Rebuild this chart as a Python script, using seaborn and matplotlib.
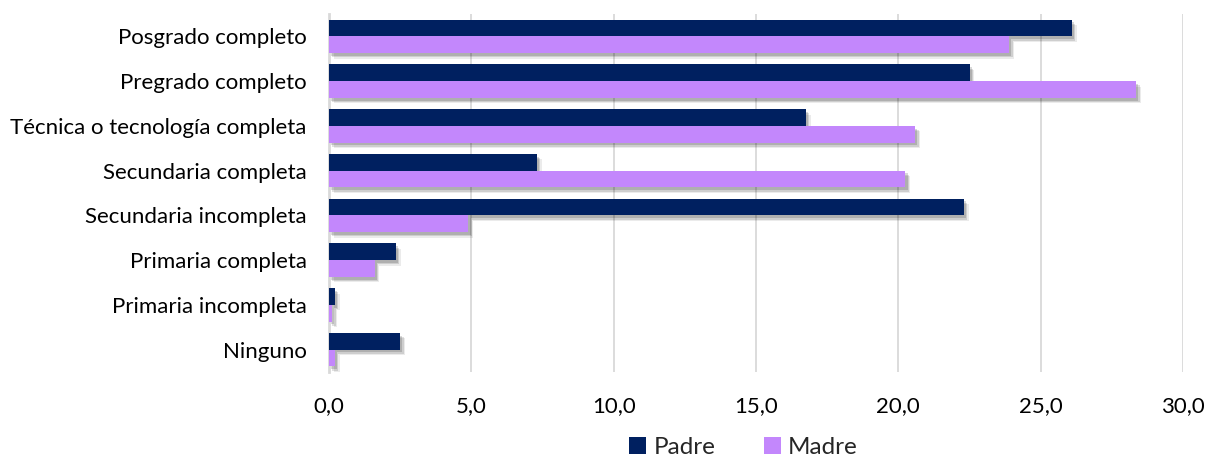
import matplotlib
matplotlib.use("Agg")
import matplotlib.pyplot as plt
import matplotlib.patheffects as pe
from matplotlib.patches import Patch
from matplotlib.ticker import FuncFormatter
import seaborn as sns
import pandas as pd

categories = ["Posgrado completo", "Pregrado completo", "Técnica o tecnología completa",
              "Secundaria completa", "Secundaria incompleta", "Primaria completa",
              "Primaria incompleta", "Ninguno"]
padre = [26.1, 22.5, 16.75, 7.3, 22.3, 2.35, 0.2, 2.5]
madre = [23.9, 28.35, 20.6, 20.25, 4.9, 1.6, 0.12, 0.2]
series = ["Padre", "Madre"]
colors = ["#002060", "#C387FC"]
xticks = [0, 5, 10, 15, 20, 25, 30]

df = pd.DataFrame({
    "categoria": categories * 2,
    "valor": padre + madre,
    "serie": ["Padre"] * len(categories) + ["Madre"] * len(categories),
})

sns.set_theme(style="white")
plt.rcParams["font.family"] = ["Lato", "DejaVu Sans"]

fig = plt.figure(figsize=(12.07, 4.63), dpi=100)
ax = fig.add_axes([329 / 1207, 1 - 372 / 463, (1183 - 329) / 1207, (372 - 14) / 463])

sns.barplot(data=df, x="valor", y="categoria", hue="serie", hue_order=series,
            palette=colors, order=categories, orient="h", width=0.75,
            saturation=1, ax=ax, zorder=3, legend=False)

for p in ax.patches:
    p.set_path_effects([
        pe.SimplePatchShadow(offset=(3.5, -4), shadow_rgbFace="#000000", alpha=0.08),
        pe.SimplePatchShadow(offset=(2.5, -3), shadow_rgbFace="#000000", alpha=0.12),
        pe.SimplePatchShadow(offset=(1.5, -2), shadow_rgbFace="#000000", alpha=0.15),
        pe.Normal()])
    p.set_linewidth(0)

ax.set_xlim(0, 30)
ax.set_xticks(xticks)
ax.xaxis.set_major_formatter(FuncFormatter(lambda v, _: f"{v:.1f}".replace(".", ",")))
ax.grid(axis="x", color="#D9D9D9", linewidth=1.3, zorder=0)
ax.set_axisbelow(True)
for s in ["top", "right", "bottom"]:
    ax.spines[s].set_visible(False)
ax.spines["left"].set_color("#D9D9D9")
ax.spines["left"].set_linewidth(2)
ax.tick_params(axis="both", length=0, labelsize=16, colors="#000000")
ax.tick_params(axis="x", pad=17)
ax.tick_params(axis="y", pad=16)
ax.set_xlabel("")
ax.set_ylabel("")

handles = [Patch(facecolor=c, edgecolor="none", label=s) for s, c in zip(series, colors)]
fig.legend(handles=handles, loc="lower center", bbox_to_anchor=(0.616, -0.036), ncol=2,
           frameon=False, fontsize=17.5, handlelength=0.7, handleheight=0.7,
           handletextpad=0.3, columnspacing=2.0)

fig.savefig("out.png", dpi=100)
